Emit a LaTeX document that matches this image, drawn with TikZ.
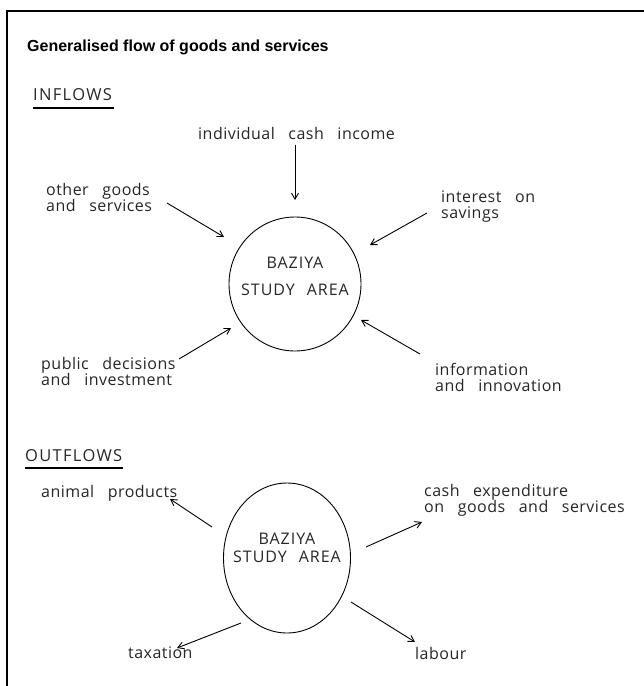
\documentclass[tikz,border=0pt]{standalone}
\usepackage{fontspec}
\setmainfont{Open Sans}
\newfontfamily\titlefont{Liberation Sans}
\newfontfamily\letterfont[LetterSpace=3]{Open Sans}
\newfontfamily\capfont[LetterSpace=6]{Open Sans}
\newfontfamily\hdcapfont[LetterSpace=8]{Open Sans}
\usetikzlibrary{arrows.meta,shapes.geometric}
\newcommand\lblfont{\letterfont\fontsize{16}{16}\selectfont\spaceskip=0.85em plus 0.1em\relax}
\newcommand\areafont{\capfont\fontsize{16}{16}\selectfont\spaceskip=0.75em\relax}
\newcommand\hdfont{\hdcapfont\fontsize{16.5}{17}\selectfont}
\begin{document}
\begin{tikzpicture}[x=1pt,y=-1pt,
  lbl/.style={font=\lblfont, inner sep=0pt, align=left, anchor=west, text=black!85},
  area/.style={draw, ellipse, line width=0.9pt, inner sep=0pt},
  atext/.style={font=\areafont, inner sep=0pt, text=black!85},
  arr/.style={line width=0.9pt, -{Straight Barb[length=6pt,width=7pt,line width=0.9pt]}},
  hd/.style={font=\hdfont, inner sep=0pt, anchor=west, text=black!85}]
\useasboundingbox (0,0) rectangle (644,686);
% frame
\draw[line width=1.4pt] (7,686) -- (7,11) -- (644,11);
% title
\node[anchor=west, inner sep=0pt, font=\titlefont\bfseries\fontsize{16}{17}\selectfont] (title) at (27,47) {Generalised flow of goods and services};
% INFLOWS
\node[hd] (inf) at (33,95) {INFLOWS};
\draw[line width=1.1pt] (33,108) coordinate (u1s) -- (114,108) coordinate (u1e);
\node[area, minimum width=132pt, minimum height=134pt] (c1) at (295,284) {};
\node[atext] (c1a) at (295,263) {BAZIYA};
\node[atext] (c1b) at (295,290) {STUDY AREA};
\node[lbl] (ic) at (198,133) {individual cash income};
\node[lbl] (og) at (46,197) {other goods\\and services};
\node[lbl] (is) at (441,207) {interest on\\savings};
\node[lbl] (pd) at (41,371) {public decisions\\and investment};
\node[lbl] (ii) at (435,377) {information\\and innovation};
\coordinate (ic1) at (295,145); \coordinate (ic2) at (295,200);
\coordinate (og1) at (167,203); \coordinate (og2) at (224,237);
\coordinate (is1) at (427,213); \coordinate (is2) at (370,245);
\coordinate (pd1) at (179,359); \coordinate (pd2) at (231,328);
\coordinate (ii1) at (420,354); \coordinate (ii2) at (361,320);
\draw[arr] (ic1) -- (ic2);
\draw[arr] (og1) -- (og2);
\draw[arr] (is1) -- (is2);
\draw[arr] (pd1) -- (pd2);
\draw[arr] (ii1) -- (ii2);
% OUTFLOWS
\node[hd] (outf) at (25,456) {OUTFLOWS};
\draw[line width=1.1pt] (25,468) coordinate (u2s) -- (123,468) coordinate (u2e);
\node[area, minimum width=127pt, minimum height=150pt] (c2) at (287,558) {};
\node[atext] (c2a) at (287,539) {BAZIYA};
\node[atext] (c2b) at (287,557) {STUDY AREA};
\node[lbl] (ap) at (41,493) {animal products};
\node[lbl] (ce) at (424,500) {cash expenditure\\on goods and services};
\node[lbl] (tx) at (128,653) {taxation};
\node[lbl] (lb) at (415,653) {labour};
\coordinate (ap1) at (212,527); \coordinate (ap2) at (170,499);
\coordinate (ce1) at (366,547); \coordinate (ce2) at (422,522);
\coordinate (tx1) at (241,623); \coordinate (tx2) at (177,648);
\coordinate (lb1) at (351,602); \coordinate (lb2) at (415,642);
\draw[arr] (ap1) -- (ap2);
\draw[arr] (ce1) -- (ce2);
\draw[arr] (tx1) -- (tx2);
\draw[arr] (lb1) -- (lb2);
\end{tikzpicture}
\end{document}
